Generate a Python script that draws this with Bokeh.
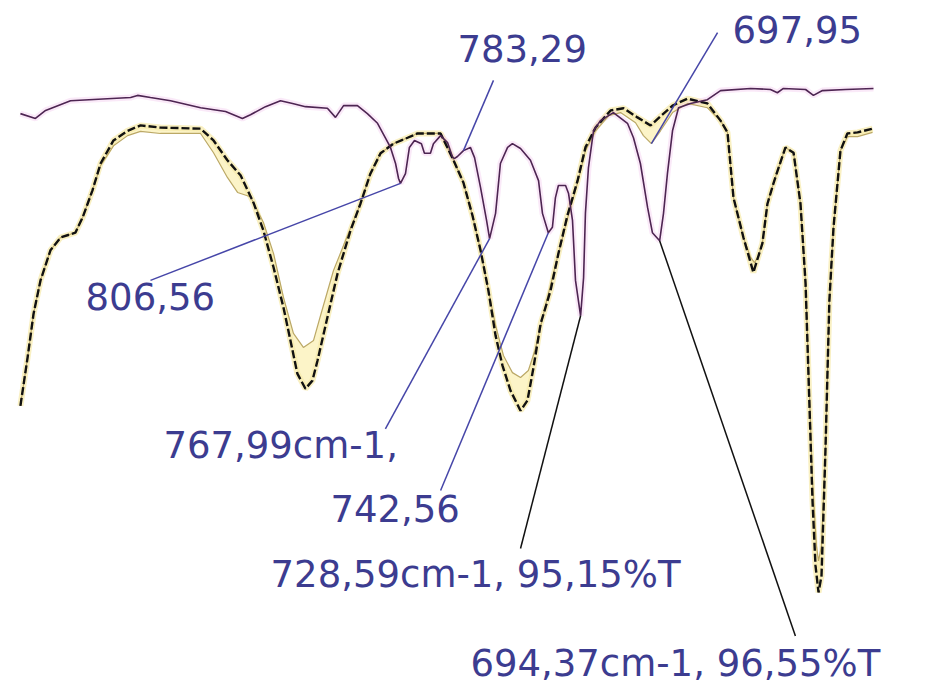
from bokeh.plotting import figure
from bokeh.models import Range1d
from bokeh.embed import file_html
from bokeh.resources import INLINE
from bokeh.core.properties import value

# --- Sample spectrum (purple trace): wavenumber in cm-1, transmittance in %T ---
sample_wn = [971.1, 964.6, 960.2, 949.4, 923.4, 920.4, 914.8, 906.1, 893.1, 882.3,
             875.0, 871.5, 865.0, 858.5, 853.3, 847.7, 838.2, 834.7, 831.2, 825.2,
             820.9, 816.5, 813.1, 810.9, 808.7, 807.4, 806.56, 804.4, 802.7, 800.5,
             797.5, 796.2, 793.6, 792.3, 789.2, 786.2, 784.1, 783.29, 781.9, 779.3,
             776.3, 774.5, 771.9, 769.3, 767.99, 765.4, 763.3, 760.2, 758.1, 754.6,
             750.3, 746.8, 745.1, 742.56, 740.8, 739.5, 738.2, 735.1, 733.8, 732.1,
             730.8, 728.59, 727.3, 726.5, 725.2, 723.0, 720.0, 714.4, 708.3, 705.7,
             702.7, 699.6, 697.5, 694.37, 692.7, 691.0, 688.8, 686.2, 681.0, 673.7,
             668.0, 655.0, 646.4, 643.4, 640.8, 631.2, 627.8, 623.9, 613.9, 601.8]
sample_t = [98.92, 98.83, 98.98, 99.16, 99.22, 99.26, 99.22, 99.16, 99.03, 98.96,
            98.83, 98.90, 99.05, 99.16, 99.11, 99.05, 99.02, 98.85, 99.07, 99.07,
            98.92, 98.74, 98.47, 98.29, 97.99, 97.71, 97.62, 97.80, 98.29, 98.42,
            98.36, 98.18, 98.18, 98.36, 98.51, 98.38, 98.12, 98.08, 98.12, 98.23,
            98.29, 98.10, 97.54, 96.93, 96.59, 97.06, 97.99, 98.29, 98.36, 98.27,
            98.05, 97.67, 97.06, 96.70, 96.80, 97.35, 97.58, 97.58, 97.43, 96.93,
            95.81, 95.15, 95.86, 97.06, 97.91, 98.60, 98.79, 98.94, 98.74, 98.47,
            97.99, 97.17, 96.70, 96.55, 97.06, 97.80, 98.60, 99.03, 99.11, 99.18,
            99.35, 99.39, 99.37, 99.31, 99.39, 99.37, 99.26, 99.35, 99.37, 99.39]

# --- Reference spectrum (black trace) ---
ref_wn = [971.1, 968.0, 965.4, 962.4, 958.1, 953.7, 947.3, 944.2, 939.9, 936.4,
          930.8, 924.7, 919.1, 910.5, 893.1, 887.5, 881.5, 875.8, 870.2, 865.9,
          861.5, 857.2, 854.2, 851.2, 847.7, 844.7, 842.5, 839.0, 833.8, 828.2,
          823.9, 819.6, 815.2, 809.6, 803.5, 799.2, 789.2, 783.6, 779.3, 775.4,
          771.9, 768.5, 765.4, 762.4, 758.9, 754.6, 751.6, 749.0, 745.9, 741.6,
          738.2, 734.3, 729.9, 726.5, 722.1, 715.6, 710.0, 704.0, 698.3, 694.0,
          688.8, 682.3, 673.7, 668.0, 665.0, 662.4, 658.1, 653.8, 649.9, 647.7,
          645.1, 642.9, 639.9, 636.4, 633.4, 631.2, 628.2, 626.9, 625.6, 624.3,
          622.6, 620.9, 619.1, 616.1, 613.1, 608.7, 602.2]
ref_t = [93.47, 94.37, 95.19, 95.81, 96.37, 96.61, 96.70, 96.98, 97.49, 97.99,
         98.42, 98.60, 98.70, 98.66, 98.64, 98.42, 98.05, 97.77, 97.26, 96.74,
         96.05, 95.30, 94.69, 94.07, 93.79, 93.94, 94.31, 94.97, 95.94, 96.74,
         97.24, 97.80, 98.18, 98.36, 98.47, 98.55, 98.55, 98.05, 97.63, 97.02,
         96.37, 95.62, 94.78, 94.22, 93.75, 93.38, 93.57, 94.18, 95.00, 95.62,
         96.31, 97.02, 97.67, 98.29, 98.66, 98.98, 99.02, 98.85, 98.70, 98.87,
         99.07, 99.20, 99.11, 98.79, 98.57, 97.35, 96.61, 95.96, 96.50, 97.24,
         97.62, 97.91, 98.29, 98.19, 97.24, 95.75, 91.70, 90.49, 89.99, 90.30,
         92.63, 95.43, 96.80, 98.23, 98.55, 98.57, 98.64]

# --- Second reference spectrum (thin olive trace) ---
ref2_wn = [971.1, 968.0, 965.4, 962.4, 958.1, 953.7, 947.3, 944.2, 939.9, 936.4,
           930.8, 924.7, 919.1, 910.5, 893.1, 887.5, 881.5, 877.1, 871.5, 865.9,
           861.5, 857.2, 852.9, 848.6, 844.2, 841.2, 835.6, 830.4, 823.9, 819.6,
           815.2, 809.6, 803.5, 799.2, 789.2, 783.6, 779.3, 775.4, 771.9, 768.5,
           765.4, 762.0, 758.1, 754.6, 751.2, 748.1, 743.8, 739.5, 734.3, 729.9,
           726.5, 722.1, 716.5, 711.3, 704.8, 701.4, 697.95, 694.0, 688.8, 682.3,
           673.7, 668.0, 665.0, 662.4, 658.1, 655.0, 653.3, 651.6, 649.9, 647.7,
           645.1, 642.9, 639.9, 636.4, 633.4, 631.2, 628.2, 626.5, 625.6, 624.3,
           622.6, 620.9, 619.1, 616.1, 613.1, 608.7, 602.2]
ref2_t = [93.47, 94.37, 95.19, 95.81, 96.37, 96.61, 96.70, 96.98, 97.49, 97.95,
          98.32, 98.51, 98.59, 98.55, 98.55, 98.19, 97.73, 97.45, 97.37, 96.89,
          96.31, 95.49, 94.82, 94.56, 94.69, 95.15, 95.99, 96.55, 97.24, 97.80,
          98.18, 98.36, 98.47, 98.55, 98.55, 98.05, 97.63, 97.02, 96.37, 95.62,
          94.97, 94.41, 94.09, 94.00, 94.13, 94.54, 95.34, 96.09, 96.96, 97.63,
          98.23, 98.60, 98.88, 98.94, 98.75, 98.51, 98.36, 98.60, 98.94, 99.11,
          99.03, 98.79, 98.57, 97.35, 96.61, 96.24, 96.14, 96.27, 96.50, 97.24,
          97.62, 97.91, 98.29, 98.19, 97.24, 95.75, 92.08, 90.86, 90.58, 90.86,
          92.63, 95.43, 96.80, 98.23, 98.49, 98.49, 98.57]

# --- Peak annotations ---
label_text = ["806,56", "783,29", "767,99cm-1,", "742,56",
              "728,59cm-1, 95,15%T", "697,95", "694,37cm-1, 96,55%T"]
label_wn = [942.9, 781.9, 909.2, 836.9, 862.8, 662.8, 776.3]
label_t = [95.51, 100.13, 92.73, 91.55, 90.32, 100.49, 88.66]

# leader lines: start near the label, end at the marked band
leader_start_wn = [914.8, 766.3, 813.1, 789.2, 754.6, 669.3, 635.6]
leader_start_t = [95.81, 99.54, 93.04, 91.89, 90.81, 100.43, 89.18]
leader_end_wn = [806.56, 779.3, 767.99, 742.56, 728.59, 697.95, 694.37]
leader_end_t = [97.62, 98.23, 96.59, 96.70, 95.15, 98.36, 96.55]
leader_color = ["#4646a8", "#4646a8", "#4646a8", "#4646a8", "#111111", "#4646a8", "#111111"]

p = figure(width=929, height=689,
           x_range=Range1d(979.72, 577.55), y_range=Range1d(88.18, 101.03),
           output_backend="svg", toolbar_location=None,
           x_axis_location=None, y_axis_location=None, min_border=0)
p.grid.visible = False
p.outline_line_color = None
p.background_fill_color = "white"
p.border_fill_color = "white"

# pale yellow band between the two reference traces
p.patch(ref_wn + ref2_wn[::-1], ref_t + ref2_t[::-1],
        fill_color="#fcf3c2", fill_alpha=0.9, line_color=None)

# soft halos
p.line(ref_wn, ref_t, line_color="#f7eaa8", line_width=6, line_alpha=0.7)
p.line(sample_wn, sample_t, line_color="#f3c9ee", line_width=6, line_alpha=0.4)

# traces
p.line(ref2_wn, ref2_t, line_color="#bba866", line_width=1.2)
p.line(ref_wn, ref_t, line_color="#111111", line_width=2.4, line_dash="8 3")
p.line(sample_wn, sample_t, line_color="#4d2552", line_width=1.6)

# annotation leaders and labels
for i in range(len(leader_end_wn)):
    p.line([leader_start_wn[i], leader_end_wn[i]], [leader_start_t[i], leader_end_t[i]],
           line_color=leader_color[i], line_width=1.5)

p.text(x=label_wn, y=label_t, text=label_text,
       text_font=value("DejaVu Sans"), text_font_size="37px",
       text_color="#3c3c90", text_align="left", text_baseline="middle")

open("out.html", "w").write(file_html(p, INLINE))
